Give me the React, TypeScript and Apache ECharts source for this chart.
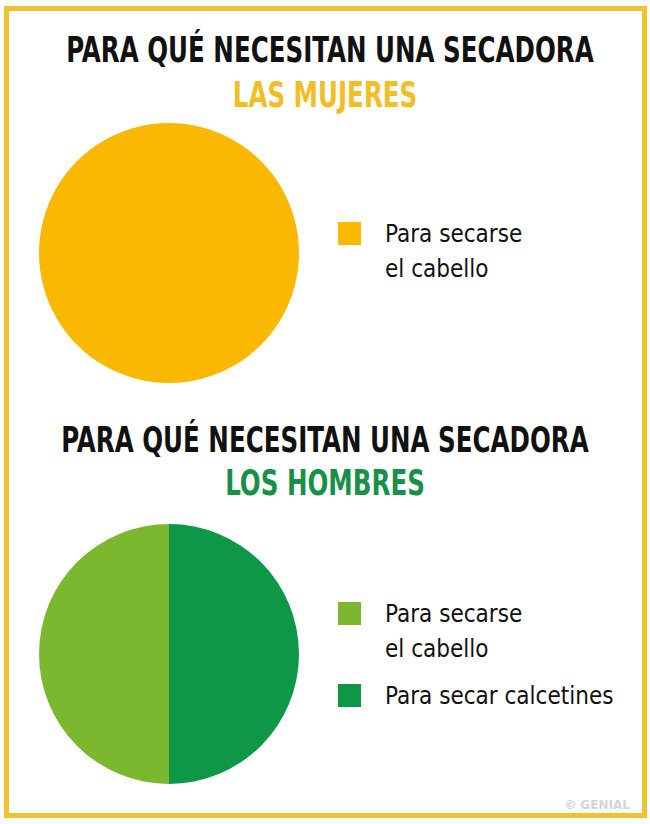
import React, { useEffect, useRef } from "react";
import * as echarts from "echarts";

const TITLE_MAIN = "PARA QUÉ NECESITAN UNA SECADORA";
const SUB_WOMEN = "LAS MUJERES";
const SUB_MEN = "LOS HOMBRES";
const WATERMARK = "© GENIAL";

const womenNames = ["Para secarse\nel cabello"];
const womenValues = [100];

const menNames = ["Para secarse\nel cabello", "Para secar calcetines"];
const menValues = [50, 50];

const YELLOW = "#FBB800";
const LIGHT_GREEN = "#7CB82F";
const DARK_GREEN = "#0D9747";
const TITLE_YELLOW = "#F2BE25";
const TITLE_GREEN = "#17914A";
const BORDER = "#F1C12E";

export default function App() {
  const ref = useRef<HTMLDivElement>(null);
  useEffect(() => {
    if (!ref.current) return;
    const chart = echarts.init(ref.current, undefined, { renderer: "svg" });
    const titleFont = {
      fontFamily: "DejaVu Sans Condensed",
      fontWeight: "bold" as const,
      fontSize: 35,
      align: "center" as const,
      verticalAlign: "middle" as const,
    };
    const legendText = {
      fontFamily: "DejaVu Sans Condensed",
      fontSize: 24,
      color: "#111",
      lineHeight: 35,
      padding: [0, 0, 0, 19],
    };
    const makeLegend = (name: string, color: string, top: number, twoLine: boolean) => ({
      orient: "vertical",
      left: 338,
      top,
      padding: 0,
      itemWidth: 23,
      itemHeight: 23,
      icon: "rect",
      selectedMode: false,
      data: [{ name, itemStyle: { color } }],
      formatter: (n: string) => (twoLine ? "\n" + n : n),
      textStyle: legendText,
    });
    chart.setOption({
      animation: false,
      backgroundColor: "#fff",
      legend: [
        makeLegend(womenNames[0], YELLOW, 181, true),
        makeLegend(menNames[0], LIGHT_GREEN, 561, true),
        makeLegend(menNames[1], DARK_GREEN, 678, false),
      ],
      graphic: [
        {
          type: "rect",
          shape: { x: 6.5, y: 8.5, width: 638, height: 807 },
          style: { fill: "none", stroke: BORDER, lineWidth: 5 },
          silent: true,
        },
        { type: "text", x: 330, y: 50, scaleX: 0.78, style: { ...titleFont, text: TITLE_MAIN, fill: "#111" } },
        { type: "text", x: 325, y: 95, scaleX: 0.78, style: { ...titleFont, text: SUB_WOMEN, fill: TITLE_YELLOW } },
        { type: "text", x: 325, y: 440, scaleX: 0.78, style: { ...titleFont, text: TITLE_MAIN, fill: "#111" } },
        { type: "text", x: 325, y: 483, scaleX: 0.78, style: { ...titleFont, text: SUB_MEN, fill: TITLE_GREEN } },
        {
          type: "text",
          x: 597,
          y: 805,
          style: {
            text: WATERMARK,
            fill: "#d4d4d4",
            fontFamily: "DejaVu Sans",
            fontWeight: "bold",
            fontSize: 12,
            align: "center",
            verticalAlign: "middle",
          },
        },
      ],
      series: [
        {
          type: "pie",
          center: [169, 253],
          radius: [0, 130],
          clockwise: false,
          startAngle: 90,
          label: { show: false },
          labelLine: { show: false },
          silent: true,
          itemStyle: { borderWidth: 0 },
          data: womenNames.map((n, i) => ({ name: n, value: womenValues[i], itemStyle: { color: YELLOW } })),
        },
        {
          type: "pie",
          center: [169, 654],
          radius: [0, 130],
          clockwise: false,
          startAngle: 90,
          label: { show: false },
          labelLine: { show: false },
          silent: true,
          itemStyle: { borderWidth: 0 },
          data: menNames.map((n, i) => ({
            name: n,
            value: menValues[i],
            itemStyle: { color: i === 0 ? LIGHT_GREEN : DARK_GREEN },
          })),
        },
      ],
    });
    return () => chart.dispose();
  }, []);
  return (
    <div
      ref={ref}
      style={{ position: "absolute", left: 0, top: 0, width: 650, height: 824 }}
    />
  );
}
